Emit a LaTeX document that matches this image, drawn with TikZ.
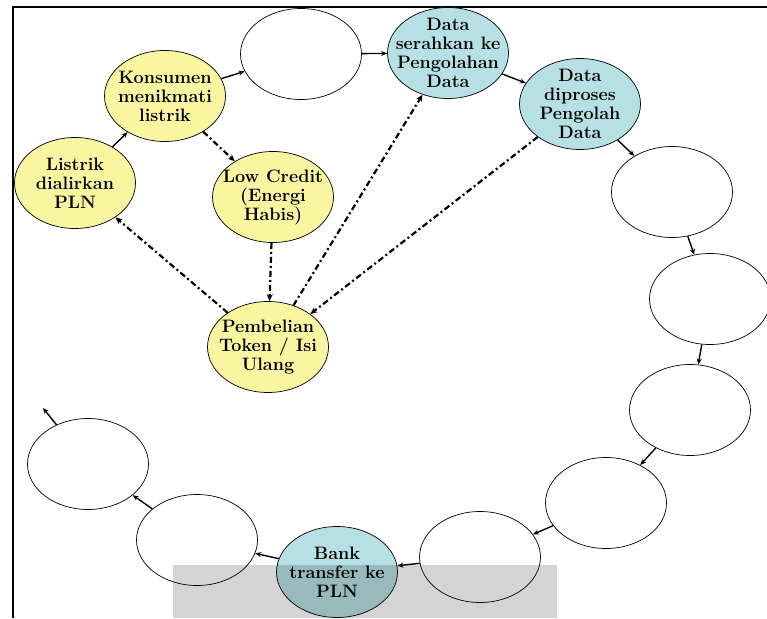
\documentclass[tikz,border=0pt]{standalone}
\usetikzlibrary{shapes.geometric,arrows.meta}
\definecolor{yel}{RGB}{250,245,160}
\definecolor{teal1}{RGB}{183,224,228}
\begin{document}
\begin{tikzpicture}[x=1pt,y=-1pt,line width=0.7pt,
    bub/.style={draw,shape=ellipse,minimum width=121pt,minimum height=91pt,inner sep=0pt},
    txt/.style={align=center,font=\fontsize{18}{19}\selectfont\bfseries},
    arr/.style={-{Stealth[length=6pt,width=5pt]},line width=1.4pt},
    dd/.style={-{Stealth[length=7pt,width=6pt]},line width=2.2pt,dash pattern=on 6pt off 3pt on 2pt off 3pt}]
    \useasboundingbox (0,0) rectangle (767,618);
    \draw[line width=2pt] (13,618) -- (13,7) -- (767,7);

    \node[bub,fill=yel,label={[txt]center:Listrik\\dialirkan\\PLN}] (lst) at (75,183) {};
    \node[bub,fill=yel,label={[txt]center:Konsumen\\menikmati\\listrik}] (kon) at (165,96) {};
    \node[bub] (e1) at (301,54) {};
    \node[bub,fill=yel,label={[txt]center:Low Credit\\(Energi\\Habis)}] (low) at (273,197) {};
    \node[bub,fill=teal1,label={[txt]center:Data\\serahkan ke\\Pengolahan\\Data}] (ser) at (448,53) {};
    \node[bub,fill=teal1,label={[txt]center:Data\\diproses\\Pengolah\\Data}] (pro) at (580,104) {};
    \node[bub] (e2) at (672,192) {};
    \node[bub] (e3) at (710,299) {};
    \node[bub] (e4) at (690,410) {};
    \node[bub] (e5) at (606,503) {};
    \node[bub] (e6) at (480,557) {};
    \node[bub,fill=teal1,label={[txt]center:Bank\\transfer ke\\PLN}] (bank) at (337,572) {};
    \node[bub] (e7) at (197,540) {};
    \node[bub] (e8) at (88,464) {};
    \node[bub,fill=yel,label={[txt]center:Pembelian\\Token / Isi\\Ulang}] (beli) at (268,347) {};
    \coordinate (out) at (43,408);

    \draw[arr] (lst) -- (kon);
    \draw[arr] (kon) -- (e1);
    \draw[arr] (e1) -- (ser);
    \draw[arr] (ser) -- (pro);
    \draw[arr] (pro) -- (e2);
    \draw[arr] (e2) -- (e3);
    \draw[arr] (e3) -- (e4);
    \draw[arr] (e4) -- (e5);
    \draw[arr] (e5) -- (e6);
    \draw[arr] (e6) -- (bank);
    \draw[arr] (bank) -- (e7);
    \draw[arr] (e7) -- (e8);
    \draw[arr] (e8) -- (out);

    \draw[dd] (kon) -- (low);
    \draw[dd] (low) -- (beli);
    \draw[dd] (beli) -- (lst);
    \draw[dd] (beli) -- (ser);
    \draw[dd] (pro) -- (beli);

    \fill[black,opacity=0.17] (173,565) rectangle (557,618);
\end{tikzpicture}
\end{document}
